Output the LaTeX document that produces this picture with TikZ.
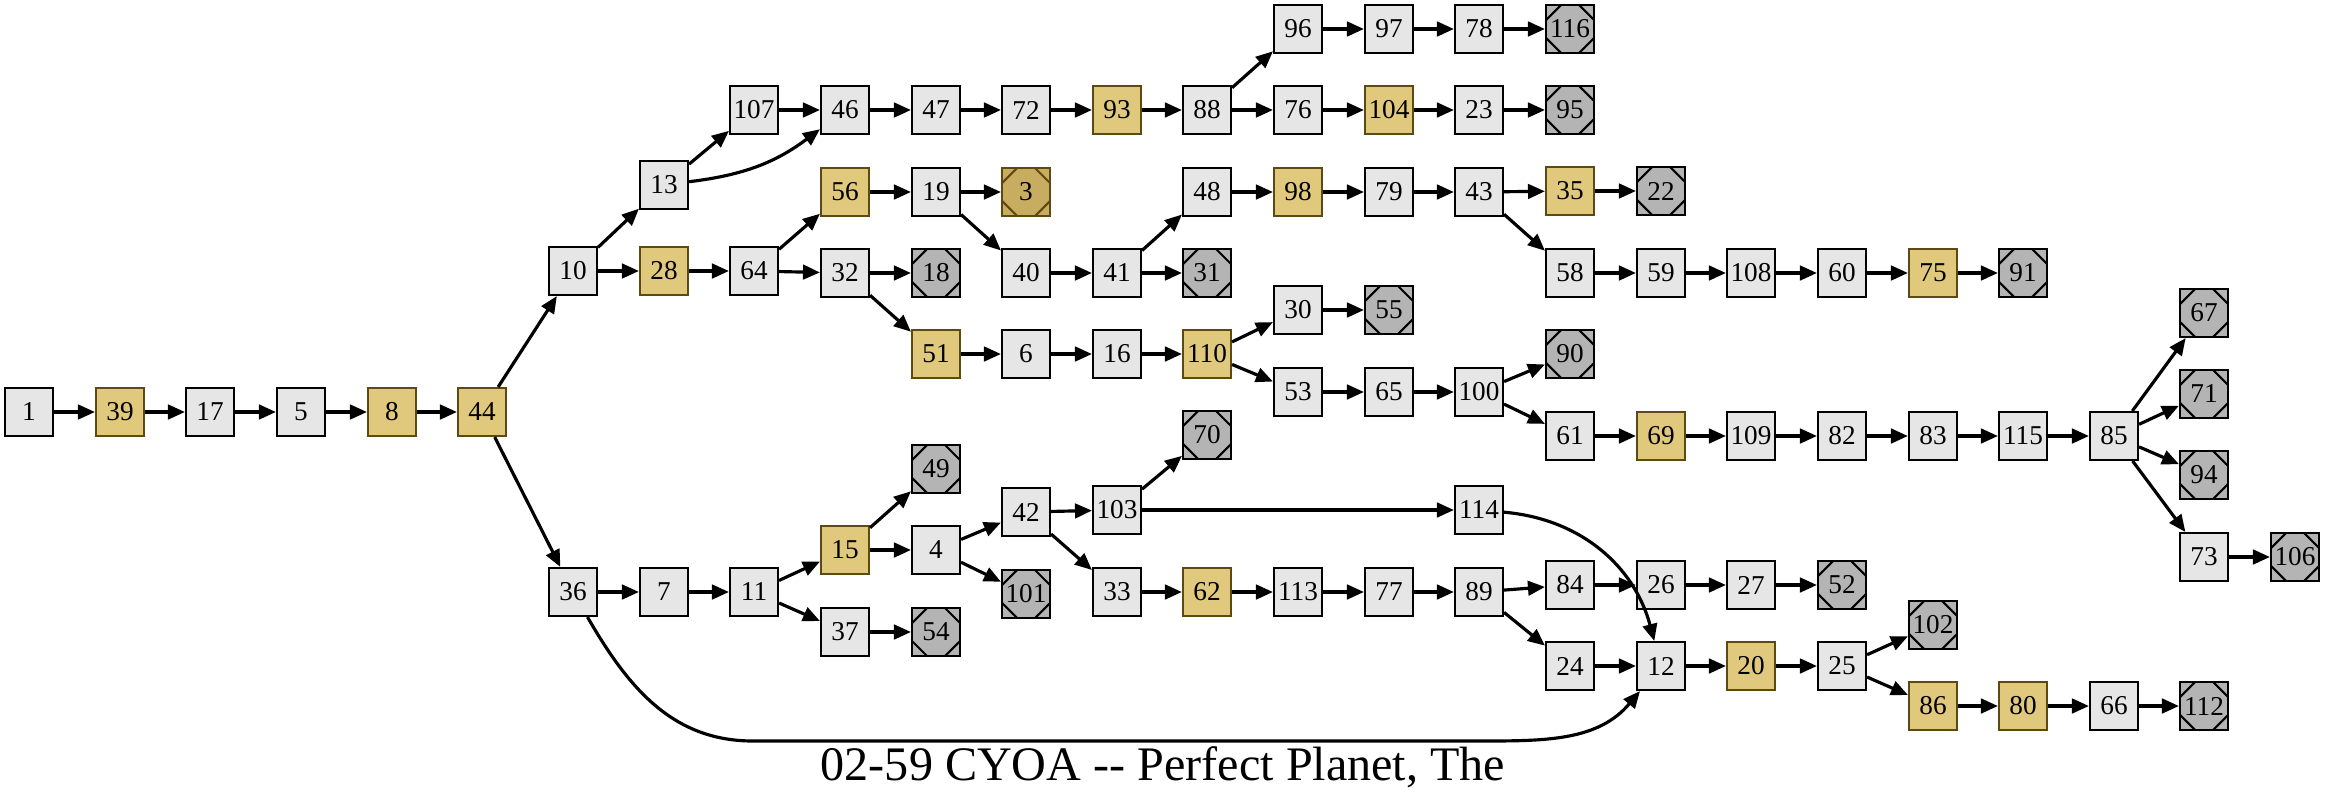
\documentclass[tikz,border=0pt]{standalone}
\usepackage{fontspec}
\usetikzlibrary{arrows.meta}
\setmainfont{Liberation Serif}[Ligatures=TeXOff]
\definecolor{pagegray}{HTML}{E6E6E6}
\definecolor{keygold}{HTML}{E0C87C}
\definecolor{goldline}{HTML}{5C4A12}
\definecolor{endgray}{HTML}{B4B4B4}
\definecolor{endgold}{HTML}{C8AC60}
\def\cutsz{0.3cm}
\tikzset{
  pg/.style={draw=black, line width=1.2pt, fill=pagegray, minimum size=0.96cm, inner sep=0pt, font=\fontsize{15.5pt}{16pt}\selectfont},
  keypg/.style={pg, fill=keygold, draw=goldline},
  corners/.style={path picture={
    \draw[#1, line width=1.2pt]
      ([yshift=-\cutsz]path picture bounding box.north west) -- ([xshift=\cutsz]path picture bounding box.north west)
      ([xshift=-\cutsz]path picture bounding box.north east) -- ([yshift=-\cutsz]path picture bounding box.north east)
      ([yshift=\cutsz]path picture bounding box.south east) -- ([xshift=-\cutsz]path picture bounding box.south east)
      ([xshift=\cutsz]path picture bounding box.south west) -- ([yshift=\cutsz]path picture bounding box.south west);}},
  endpg/.style={pg, fill=endgray, corners=black},
  keyend/.style={keypg, fill=endgold, corners=goldline},
  ed/.style={-{Triangle[length=0.34cm,width=0.29cm]}, line width=1.8pt}
}
\begin{document}
\begin{tikzpicture}[x=0.02cm, y=0.02cm]
\useasboundingbox (0,0) rectangle (2325,-805);
\node[pg] (n1) at (29,-412) {1};
\node[keypg] (n39) at (120,-412) {39};
\node[pg] (n17) at (210,-412) {17};
\node[pg] (n5) at (301,-412) {5};
\node[keypg] (n8) at (392,-412) {8};
\node[keypg] (n44) at (482,-412) {44};
\node[pg] (n10) at (573,-271) {10};
\node[pg] (n36) at (573,-592) {36};
\node[pg] (n13) at (664,-185) {13};
\node[keypg] (n28) at (664,-271) {28};
\node[pg] (n7) at (664,-592) {7};
\node[pg] (n107) at (754,-110) {107};
\node[pg] (n64) at (754,-271) {64};
\node[pg] (n11) at (754,-592) {11};
\node[pg] (n46) at (845,-110) {46};
\node[keypg] (n56) at (845,-192) {56};
\node[pg] (n32) at (845,-273) {32};
\node[keypg] (n15) at (845,-550) {15};
\node[pg] (n37) at (845,-632) {37};
\node[pg] (n47) at (936,-110) {47};
\node[pg] (n19) at (936,-192) {19};
\node[endpg] (n18) at (936,-273) {18};
\node[keypg] (n51) at (936,-354) {51};
\node[endpg] (n49) at (936,-469) {49};
\node[pg] (n4) at (936,-550) {4};
\node[endpg] (n54) at (936,-632) {54};
\node[pg] (n72) at (1026,-110) {72};
\node[keyend] (n3) at (1026,-192) {3};
\node[pg] (n40) at (1026,-273) {40};
\node[pg] (n6) at (1026,-354) {6};
\node[pg] (n42) at (1026,-512) {42};
\node[endpg] (n101) at (1026,-594) {101};
\node[keypg] (n93) at (1117,-110) {93};
\node[pg] (n41) at (1117,-273) {41};
\node[pg] (n16) at (1117,-354) {16};
\node[pg] (n103) at (1117,-510) {103};
\node[pg] (n33) at (1117,-592) {33};
\node[pg] (n88) at (1207,-110) {88};
\node[pg] (n48) at (1207,-192) {48};
\node[endpg] (n31) at (1207,-273) {31};
\node[keypg] (n110) at (1207,-354) {110};
\node[endpg] (n70) at (1207,-435) {70};
\node[keypg] (n62) at (1207,-592) {62};
\node[pg] (n96) at (1298,-29) {96};
\node[pg] (n76) at (1298,-110) {76};
\node[keypg] (n98) at (1298,-192) {98};
\node[pg] (n30) at (1298,-310) {30};
\node[pg] (n53) at (1298,-392) {53};
\node[pg] (n113) at (1298,-592) {113};
\node[pg] (n97) at (1389,-29) {97};
\node[keypg] (n104) at (1389,-110) {104};
\node[pg] (n79) at (1389,-192) {79};
\node[endpg] (n55) at (1389,-310) {55};
\node[pg] (n65) at (1389,-392) {65};
\node[pg] (n77) at (1389,-592) {77};
\node[pg] (n78) at (1479,-29) {78};
\node[pg] (n23) at (1479,-110) {23};
\node[pg] (n43) at (1479,-192) {43};
\node[pg] (n100) at (1479,-392) {100};
\node[pg] (n114) at (1479,-510) {114};
\node[pg] (n89) at (1479,-592) {89};
\node[endpg] (n116) at (1570,-29) {116};
\node[endpg] (n95) at (1570,-110) {95};
\node[keypg] (n35) at (1570,-191) {35};
\node[pg] (n58) at (1570,-273) {58};
\node[endpg] (n90) at (1570,-354) {90};
\node[pg] (n61) at (1570,-436) {61};
\node[pg] (n84) at (1570,-585) {84};
\node[pg] (n24) at (1570,-666) {24};
\node[endpg] (n22) at (1661,-191) {22};
\node[pg] (n59) at (1661,-273) {59};
\node[keypg] (n69) at (1661,-436) {69};
\node[pg] (n26) at (1661,-585) {26};
\node[pg] (n12) at (1661,-666) {12};
\node[pg] (n108) at (1751,-273) {108};
\node[pg] (n109) at (1751,-436) {109};
\node[pg] (n27) at (1751,-585) {27};
\node[keypg] (n20) at (1751,-666) {20};
\node[pg] (n60) at (1842,-273) {60};
\node[pg] (n82) at (1842,-436) {82};
\node[endpg] (n52) at (1842,-585) {52};
\node[pg] (n25) at (1842,-666) {25};
\node[keypg] (n75) at (1933,-273) {75};
\node[pg] (n83) at (1933,-436) {83};
\node[endpg] (n102) at (1933,-625) {102};
\node[keypg] (n86) at (1933,-706) {86};
\node[endpg] (n91) at (2023,-273) {91};
\node[pg] (n115) at (2023,-436) {115};
\node[keypg] (n80) at (2023,-706) {80};
\node[pg] (n85) at (2114,-436) {85};
\node[pg] (n66) at (2114,-706) {66};
\node[endpg] (n67) at (2204,-313) {67};
\node[endpg] (n71) at (2204,-394) {71};
\node[endpg] (n94) at (2204,-475) {94};
\node[pg] (n73) at (2204,-557) {73};
\node[endpg] (n112) at (2204,-706) {112};
\node[endpg] (n106) at (2295,-557) {106};
\node[font=\fontsize{27.4pt}{30pt}\selectfont, anchor=base] (title) at (1163,-780) {02-59 CYOA -- Perfect Planet, The};
\coordinate (lowa) at (753,-741);
\coordinate (lowb) at (1482,-741);
\draw[ed] (n1) -- (n39);
\draw[ed] (n39) -- (n17);
\draw[ed] (n17) -- (n5);
\draw[ed] (n5) -- (n8);
\draw[ed] (n8) -- (n44);
\draw[ed] (n44) -- (n10);
\draw[ed] (n44) -- (n36);
\draw[ed] (n10) -- (n13);
\draw[ed] (n10) -- (n28);
\draw[ed] (n13) -- (n107);
\draw[ed] (n13) to[bend right=15] (n46);
\draw[ed] (n107) -- (n46);
\draw[ed] (n46) -- (n47);
\draw[ed] (n47) -- (n72);
\draw[ed] (n72) -- (n93);
\draw[ed] (n93) -- (n88);
\draw[ed] (n88) -- (n96);
\draw[ed] (n88) -- (n76);
\draw[ed] (n96) -- (n97);
\draw[ed] (n97) -- (n78);
\draw[ed] (n78) -- (n116);
\draw[ed] (n76) -- (n104);
\draw[ed] (n104) -- (n23);
\draw[ed] (n23) -- (n95);
\draw[ed] (n28) -- (n64);
\draw[ed] (n64) -- (n56);
\draw[ed] (n64) -- (n32);
\draw[ed] (n56) -- (n19);
\draw[ed] (n19) -- (n3);
\draw[ed] (n19) -- (n40);
\draw[ed] (n32) -- (n18);
\draw[ed] (n32) -- (n51);
\draw[ed] (n40) -- (n41);
\draw[ed] (n41) -- (n48);
\draw[ed] (n41) -- (n31);
\draw[ed] (n48) -- (n98);
\draw[ed] (n98) -- (n79);
\draw[ed] (n79) -- (n43);
\draw[ed] (n43) -- (n35);
\draw[ed] (n43) -- (n58);
\draw[ed] (n35) -- (n22);
\draw[ed] (n58) -- (n59);
\draw[ed] (n59) -- (n108);
\draw[ed] (n108) -- (n60);
\draw[ed] (n60) -- (n75);
\draw[ed] (n75) -- (n91);
\draw[ed] (n51) -- (n6);
\draw[ed] (n6) -- (n16);
\draw[ed] (n16) -- (n110);
\draw[ed] (n110) -- (n30);
\draw[ed] (n110) -- (n53);
\draw[ed] (n30) -- (n55);
\draw[ed] (n53) -- (n65);
\draw[ed] (n65) -- (n100);
\draw[ed] (n100) -- (n90);
\draw[ed] (n100) -- (n61);
\draw[ed] (n61) -- (n69);
\draw[ed] (n69) -- (n109);
\draw[ed] (n109) -- (n82);
\draw[ed] (n82) -- (n83);
\draw[ed] (n83) -- (n115);
\draw[ed] (n115) -- (n85);
\draw[ed] (n85) -- (n67);
\draw[ed] (n85) -- (n71);
\draw[ed] (n85) -- (n94);
\draw[ed] (n85) -- (n73);
\draw[ed] (n73) -- (n106);
\draw[ed] (n36) -- (n7);
\draw[ed] (n7) -- (n11);
\draw[ed] (n11) -- (n15);
\draw[ed] (n11) -- (n37);
\draw[ed] (n15) -- (n49);
\draw[ed] (n15) -- (n4);
\draw[ed] (n37) -- (n54);
\draw[ed] (n4) -- (n42);
\draw[ed] (n4) -- (n101);
\draw[ed] (n42) -- (n103);
\draw[ed] (n42) -- (n33);
\draw[ed] (n103) -- (n70);
\draw[ed] (n103) -- (n114);
\draw[ed] (n114) to[out=-5,in=105] (n12);
\draw[ed] (n33) -- (n62);
\draw[ed] (n62) -- (n113);
\draw[ed] (n113) -- (n77);
\draw[ed] (n77) -- (n89);
\draw[ed] (n89) -- (n84);
\draw[ed] (n89) -- (n24);
\draw[ed] (n84) -- (n26);
\draw[ed] (n26) -- (n27);
\draw[ed] (n27) -- (n52);
\draw[ed] (n24) -- (n12);
\draw[ed] (n12) -- (n20);
\draw[ed] (n20) -- (n25);
\draw[ed] (n25) -- (n102);
\draw[ed] (n25) -- (n86);
\draw[ed] (n86) -- (n80);
\draw[ed] (n80) -- (n66);
\draw[ed] (n66) -- (n112);
\draw[ed] (n36) to[out=-60,in=180] (lowa) -- (lowb) to[out=0,in=-130] (n12);
\end{tikzpicture}
\end{document}
